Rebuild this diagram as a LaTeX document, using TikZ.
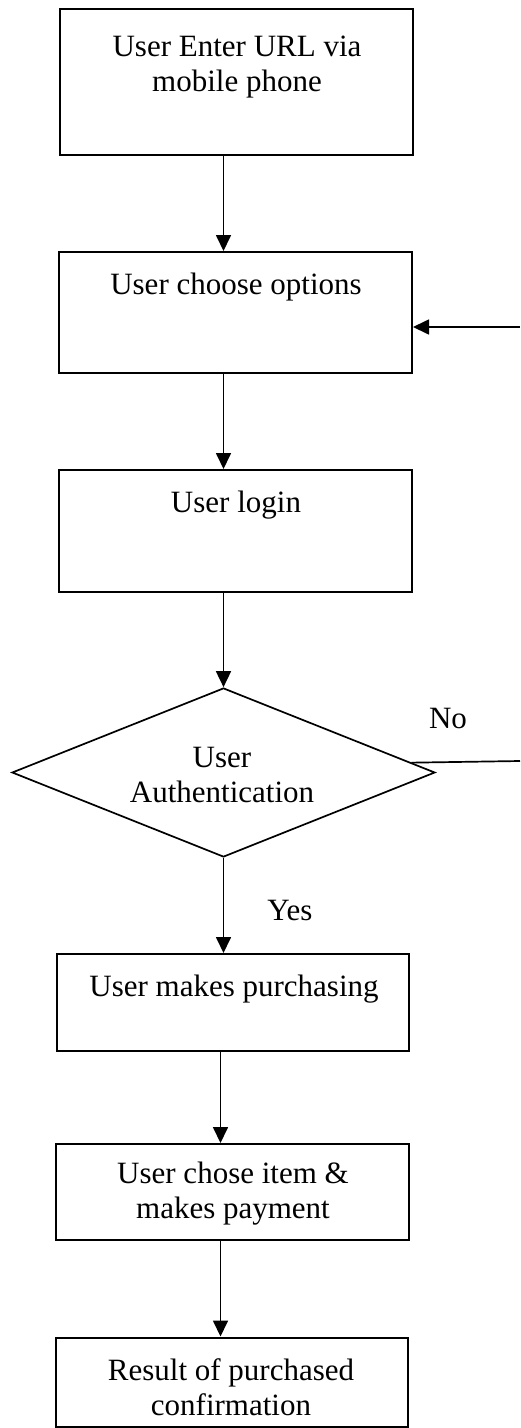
\documentclass[tikz,border=0pt]{standalone}
\usepackage{fontspec}
\setmainfont{Liberation Serif}
\usetikzlibrary{shapes.geometric,arrows.meta}
\tikzset{
  box/.style={draw=black, line width=2pt, rectangle, inner sep=0pt},
  decision/.style={draw=black, line width=1.7pt, diamond, inner sep=0pt},
  lbl/.style={font=\fontsize{31}{35}\selectfont, align=center, inner sep=0pt},
  arr/.style={draw=black, line width=1.7pt, -{Triangle[length=16pt,width=15pt]}},
  ln/.style={draw=black, line width=1.7pt},
}
\begin{document}
\begin{tikzpicture}[x=1pt,y=-1pt]
\useasboundingbox (0,0) rectangle (520,1428);
% boxes
\node[box, minimum width=353pt, minimum height=146pt] (b1) at (236.5,82) {};
\node[box, minimum width=353pt, minimum height=121pt] (b2) at (235.5,312.5) {};
\node[box, minimum width=353pt, minimum height=122pt] (b3) at (235.5,531) {};
\node[decision, minimum width=423pt, minimum height=169pt] (d) at (223.5,772.5) {};
\node[box, minimum width=352pt, minimum height=97pt] (b4) at (233,1002.5) {};
\node[box, minimum width=353pt, minimum height=96pt] (b5) at (232.5,1192) {};
\node[box, minimum width=352pt, minimum height=89pt] (b6) at (232,1382) {};
% texts
\node[lbl] (t1) at (237,67) {User Enter URL via\\mobile phone};
\node[lbl] (t2) at (236,287) {User choose options};
\node[lbl] (t3) at (236,505) {User login};
\node[lbl] (t4) at (222,775) {User\\Authentication};
\node[lbl] (t5) at (234,989) {User makes purchasing};
\node[lbl] (t6) at (233,1194) {User chose item \&\\makes payment};
\node[lbl] (t7) at (231,1387) {Result of purchased\\confirmation};
\node[lbl] (no) at (448,718) {No};
\node[lbl] (yes) at (290,910) {Yes};
% column of the main arrows
\coordinate (col) at (223.5,0);
\coordinate (col2) at (220.5,0);
\draw[arr] (b1.south -| col) -- (b2.north -| col);
\draw[arr] (b2.south -| col) -- (b3.north -| col);
\draw[arr] (b3.south -| col) -- (d.north);
\draw[arr] (d.south) -- (b4.north -| d.south);
\draw[arr] (b4.south -| col2) -- (b5.north -| col2);
\draw[arr] (b5.south -| col2) -- (b6.north -| col2);
% loop back (cut at the right edge)
\coordinate (noend) at (520,761);
\coordinate (backstart) at (520,327);
\draw[ln] (d.3.4) -- (noend);
\draw[arr] (backstart) -- (backstart -| b2.east);
\end{tikzpicture}
\end{document}
